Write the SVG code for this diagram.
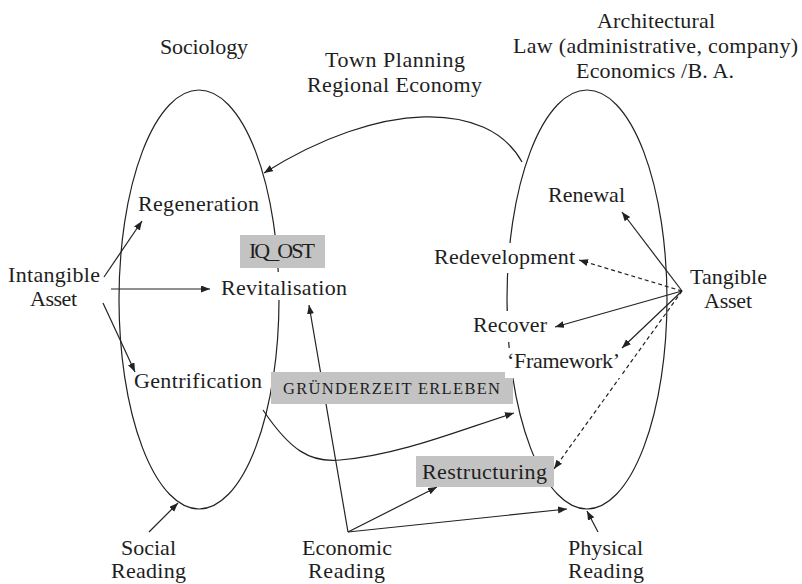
<svg xmlns="http://www.w3.org/2000/svg" width="802" height="584" viewBox="0 0 802 584" font-family="'Liberation Serif', 'Times New Roman', serif">
<style>
text{font-family:'Liberation Serif','Times New Roman',serif;font-size:22px;fill:#1e1e1e}
.sm{font-size:16.5px}
.ln{fill:none;stroke:#222;stroke-width:1.2}
.ds{stroke-dasharray:4,3}
.box{fill:#c3c3c3}
.bg{fill:#fff}
.ell{fill:none;stroke:#222;stroke-width:1.2}
</style>
<defs>
<marker id="ah" markerUnits="userSpaceOnUse" markerWidth="10" markerHeight="8" refX="9" refY="3.5" orient="auto">
<path d="M0,0 L9,3.5 L0,7 z" fill="#222"/>
</marker>
</defs>
<rect width="802" height="584" fill="#fff"/>
<g id="ellipses">
<ellipse id="left-ellipse" class="ell" cx="199" cy="299.5" rx="80" ry="209.5"/>
<ellipse id="right-ellipse" class="ell" cx="587" cy="299.5" rx="80" ry="209.5"/>
</g>
<g id="connectors">
<path class="ln" d="M522,162 C488,100 380,100 264,173" marker-end="url(#ah)"/>
<path class="ln" d="M104,277 L142,221" marker-end="url(#ah)"/>
<path class="ln" d="M111,289 L210,289" marker-end="url(#ah)"/>
<path class="ln" d="M103,303 L135,372" marker-end="url(#ah)"/>
<path class="ln" d="M149,532 L178,503" marker-end="url(#ah)"/>
<path class="ln" d="M348,532 L309,305" marker-end="url(#ah)"/>
<path class="ln" d="M348,532 L437,487" marker-end="url(#ah)"/>
<path class="ln" d="M348,532 L567,509" marker-end="url(#ah)"/>
<path class="ln" d="M598,532 L587,511" marker-end="url(#ah)"/>
<path class="ln" d="M263,410 C290,450 310,463 340,460 C400,455 460,430 514,413" marker-end="url(#ah)"/>
<path class="ln" d="M682,291 L622,212" marker-end="url(#ah)"/>
<path class="ln ds" d="M682,291 L579,260" marker-end="url(#ah)"/>
<path class="ln" d="M682,291 L555,327" marker-end="url(#ah)"/>
<path class="ln" d="M682,291 L622,348" marker-end="url(#ah)"/>
<path class="ln ds" d="M682,291 L554,469" marker-end="url(#ah)"/>
</g>
<g id="headings">
<text x="160" y="54" textLength="88">Sociology</text>
<text x="325" y="67" textLength="140">Town Planning</text>
<text x="307" y="92" textLength="175">Regional Economy</text>
<text x="597" y="28" textLength="118">Architectural</text>
<text x="513" y="53" textLength="285">Law (administrative, company)</text>
<text x="576" y="78" textLength="158">Economics /B. A.</text>
</g>
<g id="regeneration"><text x="138" y="211" textLength="121">Regeneration</text></g>
<g id="iq-ost"><rect class="box" x="240" y="235" width="85" height="33"/><text x="249" y="258" textLength="66">IQ_OST</text></g>
<g id="revitalisation"><rect class="bg" x="219" y="272" width="130" height="28"/><text x="221" y="295" textLength="126">Revitalisation</text></g>
<g id="intangible-asset"><text x="8" y="282" textLength="92">Intangible</text><text x="30" y="306" textLength="47">Asset</text></g>
<g id="gentrification"><text x="134" y="388" textLength="128">Gentrification</text></g>
<g id="gruenderzeit"><rect class="box" x="271" y="372" width="242" height="32"/><text class="sm" x="283" y="394" textLength="217">GRÜNDERZEIT ERLEBEN</text></g>
<g id="social-reading"><text x="121" y="555" textLength="55">Social</text><text x="111" y="578" textLength="75">Reading</text></g>
<g id="economic-reading"><text x="302" y="555" textLength="90">Economic</text><text x="308" y="578" textLength="77">Reading</text></g>
<g id="physical-reading"><text x="568" y="555" textLength="75">Physical</text><text x="568" y="578" textLength="76">Reading</text></g>
<g id="restructuring"><rect class="box" x="416" y="456" width="138" height="31"/><text x="422" y="479" textLength="125">Restructuring</text></g>
<g id="renewal"><text x="548" y="202" textLength="77">Renewal</text></g>
<g id="redevelopment"><rect class="bg" x="432" y="243" width="144" height="30"/><text x="434" y="264" textLength="141">Redevelopment</text></g>
<g id="recover"><rect class="bg" x="471" y="311" width="78" height="31"/><text x="473" y="332" textLength="74">Recover</text></g>
<g id="framework"><rect class="bg" x="505" y="348" width="117" height="30"/><text x="507" y="368" textLength="113">‘Framework’</text></g>
<g id="tangible-asset"><text x="690" y="284" textLength="77">Tangible</text><text x="704" y="308" textLength="48">Asset</text></g>
</svg>
